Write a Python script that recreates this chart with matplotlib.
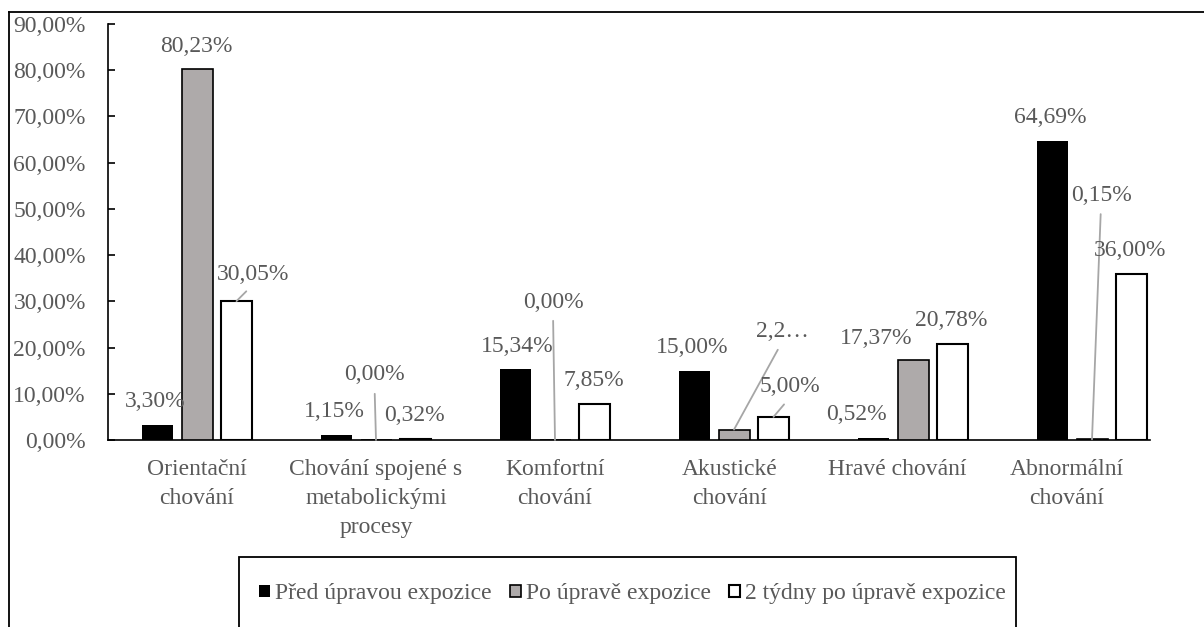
import numpy as np
import matplotlib
matplotlib.use("Agg")
import matplotlib.pyplot as plt
import matplotlib.transforms as mtransforms
from matplotlib.patches import Patch, Rectangle
from matplotlib.lines import Line2D

plt.rcParams['font.family'] = ['Liberation Serif', 'DejaVu Serif']

# ---- data ----
categories = ["Orientační\nchování", "Chování spojené s\nmetabolickými\nprocesy",
              "Komfortní\nchování", "Akustické\nchování", "Hravé chování",
              "Abnormální\nchování"]
series_names = ["Před úpravou expozice", "Po úpravě expozice", "2 týdny po úpravě expozice"]
before = [3.30, 1.15, 15.34, 15.00, 0.52, 64.69]
after = [80.23, 0.00, 0.00, 2.25, 17.37, 0.15]
two_weeks = [30.05, 0.32, 7.85, 5.00, 20.78, 36.00]
label_before = ["3,30%", "1,15%", "15,34%", "15,00%", "0,52%", "64,69%"]
label_after = ["80,23%", "0,00%", "0,00%", "2,2…", "17,37%", "0,15%"]
label_two = ["30,05%", "0,32%", "7,85%", "5,00%", "20,78%", "36,00%"]
y_ticks = [0, 10, 20, 30, 40, 50, 60, 70, 80, 90]

# ---- style ----
W, H = 1204, 627
fig = plt.figure(figsize=(W / 100, H / 100), dpi=100)
ax = fig.add_axes([108 / W, 1 - 440 / H, (1150 - 108) / W, (440 - 24) / H])

text_col = '#595959'
fs = 17
faces = ['black', '#aeaaaa', 'white']
edges = ['black', 'black', 'black']
lws = [0, 1.2, 1.5]
spacing = 39.5 / 179
width = 31 / 179

# label offsets (pixels, relative to top centre of bar), leader flags
off = {
    0: [(-2, 23), (-2, 23), (2, 23), (-2, 23), (-17, 23), (-2, 23)],
    1: [(-1, 23), (-1.5, 65), (-2, 138), (48, 98), (-37, 21), (9, 244)],
    2: [(16.5, 27), (-1, 23), (-1, 23), (16.5, 30), (-1, 23), (-1, 23)],
}
leaders = {
    0: [False] * 6,
    1: [False, True, True, True, False, True],
    2: [True, False, False, True, False, False],
}
# horizontal nudge of category labels (pixels)
xlabel_shift = [0, 0, 0, -4, -16, -25]

x = np.arange(len(categories))
all_vals = [before, after, two_weeks]
all_labels = [label_before, label_after, label_two]
for s, (vals, labs) in enumerate(zip(all_vals, all_labels)):
    xs = x + (s - 1) * spacing
    ax.bar(xs, vals, width=width, color=faces[s], edgecolor=edges[s],
           linewidth=lws[s], zorder=3, label=series_names[s])
    for i in range(len(vals)):
        dx, dy = off[s][i]
        kw = {}
        if leaders[s][i]:
            kw['arrowprops'] = dict(arrowstyle='-', color='#a6a6a6', lw=1.3,
                                    relpos=(0.5, 0.0), shrinkA=4, shrinkB=0)
        ax.annotate(labs[i], xy=(xs[i], vals[i]), xytext=(dx * 0.72, dy * 0.72),
                    textcoords='offset points', ha='center', va='center',
                    fontsize=fs, color=text_col, zorder=5, **kw)

ax.set_xlim((108 - 197) / 179, (1150 - 197) / 179)
ax.set_ylim(0, 90)
ax.set_yticks(y_ticks)
ax.set_yticklabels([f"{v:.2f}%".replace('.', ',') for v in y_ticks])
ax.set_xticks(x)
ax.set_xticklabels(categories, linespacing=1.5)
for sp in ['top', 'right']:
    ax.spines[sp].set_visible(False)
for sp in ['left', 'bottom']:
    ax.spines[sp].set_linewidth(1.2)
    ax.spines[sp].set_color('black')
ax.tick_params(axis='y', direction='in', length=5, width=1.2, pad=16,
               labelsize=fs, labelcolor=text_col)
ax.tick_params(axis='x', length=0, pad=14, labelsize=fs, labelcolor=text_col)
for lbl, sh in zip(ax.get_xticklabels(), xlabel_shift):
    lbl.set_transform(lbl.get_transform() +
                      mtransforms.ScaledTranslation(sh / 100, 0, fig.dpi_scale_trans))

# legend
handles = [Patch(facecolor=faces[i], edgecolor='black', linewidth=lws[i] if i else 0)
           for i in range(3)]
fig.legend(handles, series_names, loc='center', ncol=3, frameon=False,
           bbox_to_anchor=((262 + 1003) / 2 / W, 1 - 594 / H),
           fontsize=fs, handlelength=0.45, handleheight=0.45,
           handletextpad=0.2, columnspacing=0.8, labelcolor=text_col)
fig.add_artist(Rectangle((239 / W, -0.1), (1016 - 239) / W, (627 - 557) / H + 0.1,
                         transform=fig.transFigure, fill=False, edgecolor='black',
                         linewidth=1.3))

# outer frame (cropped)
fig.add_artist(Line2D([9 / W, 9 / W], [0, 1 - 12 / H], transform=fig.transFigure,
                      color='black', linewidth=1.3))
fig.add_artist(Line2D([9 / W, 1.01], [1 - 12 / H, 1 - 12 / H], transform=fig.transFigure,
                      color='black', linewidth=1.3))

fig.savefig('out.png', dpi=100)
